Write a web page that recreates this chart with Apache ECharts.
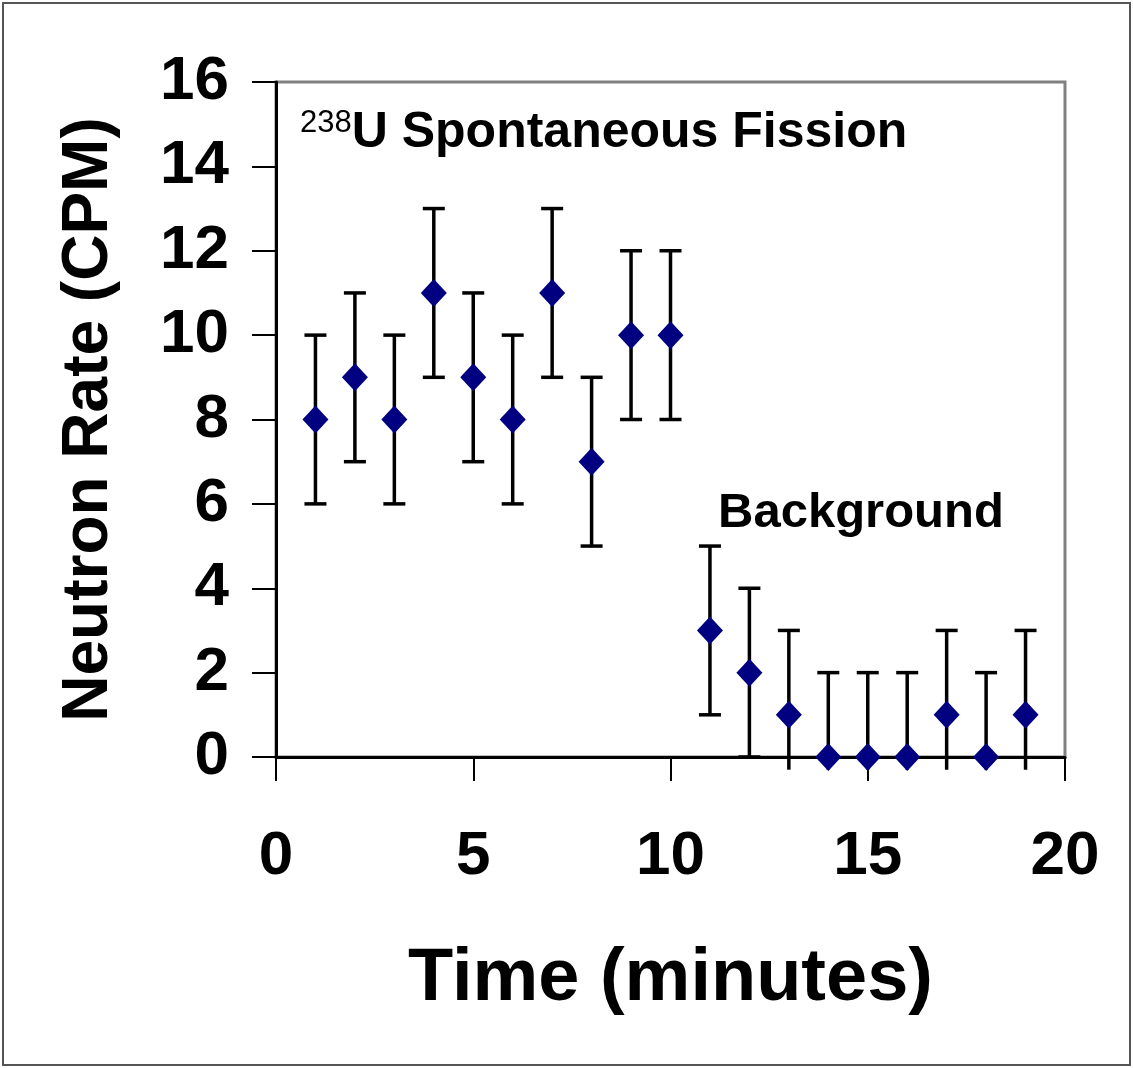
<!DOCTYPE html>
<html>
<head>
<meta charset="utf-8">
<script src="https://cdn.jsdelivr.net/npm/echarts@6/dist/echarts.min.js"></script>
<style>
  html, body { margin: 0; padding: 0; background: #fff; }
  #chart { width: 1133px; height: 1068px; }
</style>
</head>
<body>
<div id="chart"></div>
<script>
// time in minutes, neutron rate in CPM, +/- error (CPM)
const minutes = [1, 2, 3, 4, 5, 6, 7, 8, 9, 10, 11, 12, 13, 14, 15, 16, 17, 18, 19];
const rates = [8, 9, 8, 11, 9, 8, 11, 7, 10, 10, 3, 2, 1, 0, 0, 0, 1, 0, 1];
const errors = [2, 2, 2, 2, 2, 2, 2, 2, 2, 2, 2, 2, 2, 2, 2, 2, 2, 2, 2];
const xTicks = [0, 5, 10, 15, 20];
const yTicks = [0, 2, 4, 6, 8, 10, 12, 14, 16];
// error bars below this value are cut off (as in the original plot)
const errFloor = -0.3;

const FONT = '"Liberation Sans", Arial, sans-serif';

const chart = echarts.init(document.getElementById("chart"), null, { renderer: "canvas" });

const points = minutes.map((m, i) => [m, rates[i], errors[i]]);

const option = {
  backgroundColor: "#fff",
  animation: false,
  grid: {
    left: 276, top: 82, right: 68, bottom: 311,
    show: true, borderColor: "#808080", borderWidth: 3, backgroundColor: "#fff",
  },
  xAxis: {
    type: "value",
    min: xTicks[0], max: xTicks[xTicks.length - 1], interval: 5,
    name: "Time (minutes)",
    nameLocation: "middle",
    nameGap: 186,
    nameTextStyle: { fontFamily: FONT, fontWeight: "bold", fontSize: 74, color: "#000" },
    axisLine: { onZero: false, lineStyle: { color: "#000", width: 3 } },
    axisTick: { inside: false, length: 24, lineStyle: { color: "#000", width: 2 } },
    axisLabel: { margin: 69, fontFamily: FONT, fontWeight: "bold", fontSize: 62, color: "#000" },
    splitLine: { show: false },
  },
  yAxis: {
    type: "value",
    min: yTicks[0], max: yTicks[yTicks.length - 1], interval: 2,
    name: "Neutron Rate (CPM)",
    nameLocation: "middle",
    nameGap: 155,
    nameTextStyle: { fontFamily: FONT, fontWeight: "bold", fontSize: 64, color: "#000" },
    axisLine: { show: true, lineStyle: { color: "#000", width: 3 } },
    axisTick: { show: true, inside: false, length: 24, lineStyle: { color: "#000", width: 2 } },
    axisLabel: { margin: 47, fontFamily: FONT, fontWeight: "bold", fontSize: 62, color: "#000" },
    splitLine: { show: false },
  },
  graphic: [
    {
      type: "rect", silent: true, z: -10,
      shape: { x: 3, y: 3, width: 1127, height: 1062 },
      style: { fill: null, stroke: "#555", lineWidth: 2 },
    },
    {
      type: "text", left: 300, top: 108, z: 20,
      style: {
        text: "{sup|238}{main|U Spontaneous Fission}",
        rich: {
          sup: { fontFamily: FONT, fontSize: 31, fill: "#000", verticalAlign: "top", lineHeight: 50 },
          main: { fontFamily: FONT, fontWeight: "bold", fontSize: 50, fill: "#000", lineHeight: 50 },
        },
      },
    },
    {
      type: "text", left: 718, top: 489, z: 20,
      style: { text: "Background", fontFamily: FONT, fontWeight: "bold", fontSize: 49, fill: "#000" },
    },
  ],
  series: [
    {
      type: "custom",
      name: "error",
      clip: false,
      z: 2,
      data: points,
      renderItem: (params, api) => {
        const x = api.value(0);
        const y = api.value(1);
        const e = api.value(2);
        const hi = y + e;
        const lo = Math.max(y - e, errFloor);
        const top = api.coord([x, hi]);
        const bot = api.coord([x, lo]);
        const half = 11;
        const style = { stroke: "#000", lineWidth: 3.5 };
        const children = [
          { type: "line", shape: { x1: top[0], y1: top[1], x2: bot[0], y2: bot[1] }, style },
          { type: "line", shape: { x1: top[0] - half, y1: top[1], x2: top[0] + half, y2: top[1] }, style },
        ];
        if (y - e >= errFloor) {
          children.push({ type: "line", shape: { x1: bot[0] - half, y1: bot[1], x2: bot[0] + half, y2: bot[1] }, style });
        }
        return { type: "group", children };
      },
    },
    {
      type: "scatter",
      name: "rate",
      z: 5,
      clip: false,
      symbol: "diamond",
      symbolSize: [26, 28],
      itemStyle: { color: "#000080", opacity: 1 },
      data: points.map((p) => [p[0], p[1]]),
    },
  ],
};

chart.setOption(option);
</script>
</body>
</html>
